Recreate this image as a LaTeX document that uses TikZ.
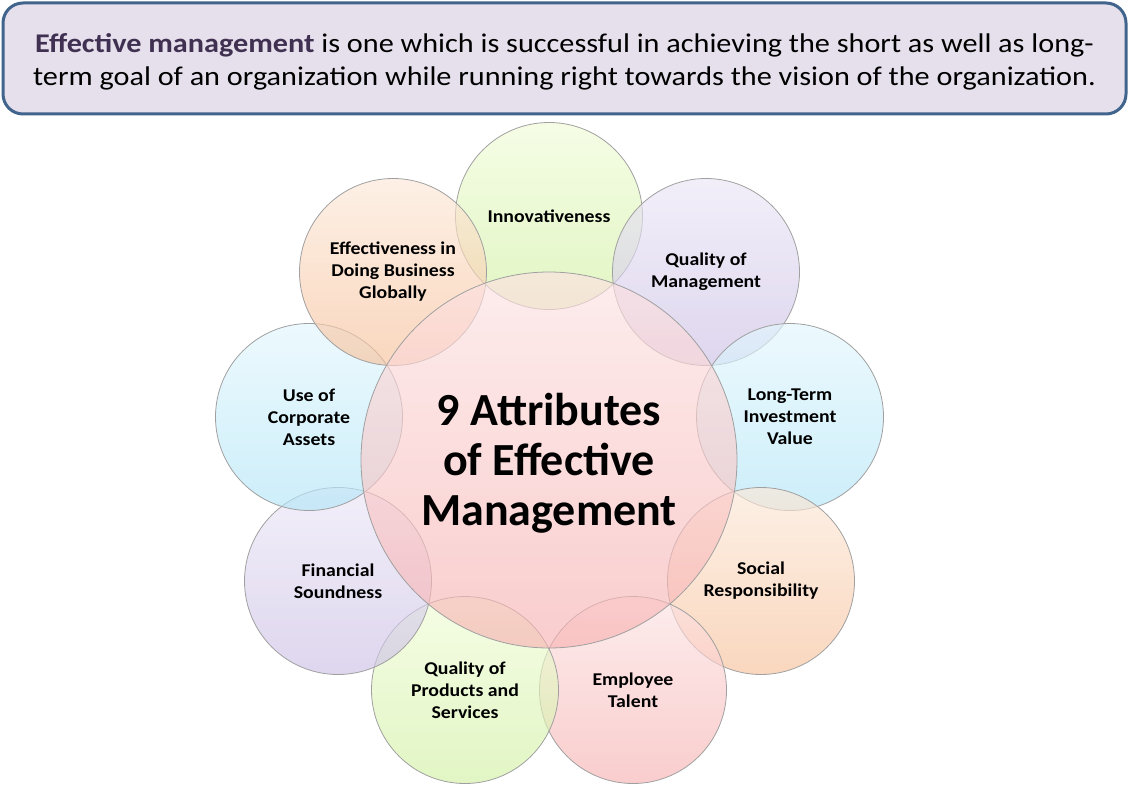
\documentclass[tikz,border=0pt]{standalone}
\usepackage{fontspec}
\setmainfont{Carlito}
\newfontfamily\topfont[FakeStretch=1.12]{Carlito}
\newfontfamily\circfont[FakeStretch=1.10]{Carlito}
\definecolor{boxfill}{RGB}{230,224,236}
\definecolor{boxline}{RGB}{65,100,140}
\definecolor{titlecol}{RGB}{64,49,82}
\definecolor{ringline}{RGB}{160,160,160}
\definecolor{gT}{RGB}{240,252,215}\definecolor{gB}{RGB}{210,240,164}
\definecolor{pT}{RGB}{252,226,226}\definecolor{pB}{RGB}{247,178,178}
\definecolor{lT}{RGB}{235,230,246}\definecolor{lB}{RGB}{204,192,229}
\definecolor{bT}{RGB}{226,246,253}\definecolor{bB}{RGB}{178,229,247}
\definecolor{oT}{RGB}{252,232,216}\definecolor{oB}{RGB}{247,193,155}
\begin{document}
\begin{tikzpicture}[x=1pt,y=-1pt,
  ring/.style={circle, draw=ringline, line width=0.8pt, fill opacity=0.65, text opacity=1,
     minimum size=187pt, inner sep=0pt, align=center, font=\circfont\bfseries\fontsize{18}{22}\selectfont},
  green/.style={top color=gT, bottom color=gB},
  pinkc/.style={top color=pT, bottom color=pB},
  lav/.style={top color=lT, bottom color=lB},
  blu/.style={top color=bT, bottom color=bB},
  ora/.style={top color=oT, bottom color=oB}]
\useasboundingbox (0,0) rectangle (1129,786);
\node[draw=boxline, line width=3pt, fill=boxfill, rounded corners=20pt,
  minimum width=1123pt, minimum height=111pt, inner sep=0pt] (top) at (564.5,58.5) {};
\node[align=center, font=\topfont\fontsize{27}{33}\selectfont] (toptext) at (564.5,62) {{\bfseries\color{titlecol}Effective management} is one which is successful in achieving the short as well as long-\\term goal of an organization while running right towards the vision of the organization.};
\node[ring, green] (innov) at (549,216) {Innovativeness};
\node[ring, lav] (qman) at (706,272) {Quality of\\Management};
\node[ring, blu] (ltiv) at (790,417) {Long-Term\\Investment\\Value};
\node[ring, ora] (soc) at (761,581) {Social\\Responsibility};
\node[ring, pinkc] (emp) at (633,690) {Employee\\Talent};
\node[ring, green] (qps) at (465,690) {Quality of\\Products and\\Services};
\node[ring, lav] (fin) at (338,581) {Financial\\Soundness};
\node[ring, blu] (uca) at (309,417) {Use of\\Corporate\\Assets};
\node[ring, ora] (eff) at (393,272) {Effectiveness in\\Doing Business\\Globally};
\node[ring, pinkc, minimum size=376pt] (center) at (549,460) {};
\node[align=center, font=\bfseries\fontsize{46}{50}\selectfont] (ctext) at (549,463) {9 Attributes\\of Effective\\Management};
\end{tikzpicture}
\end{document}
